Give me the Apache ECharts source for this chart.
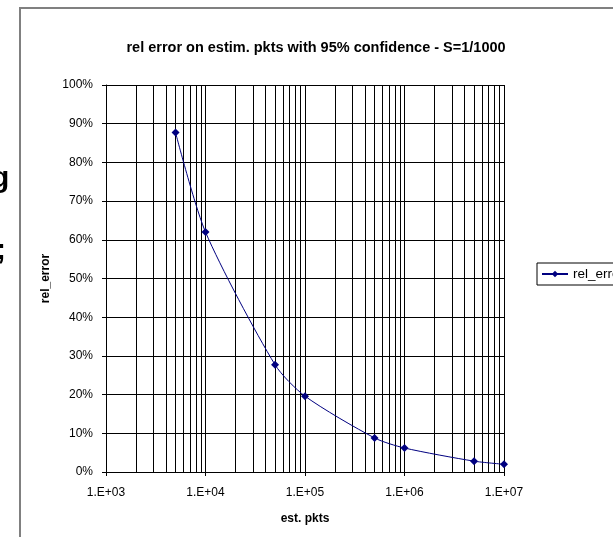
<!DOCTYPE html>
<html><head><meta charset="utf-8">
<script src="https://cdn.jsdelivr.net/npm/echarts@6/dist/echarts.min.js"></script>
<style>html,body{margin:0;padding:0;background:#fff}#c{width:613px;height:537px}</style>
</head><body><div id="c"></div>
<script>
const estPkts = [5000, 10000, 50000, 100000, 500000, 1000000, 5000000, 10000000];
const relError = [0.877, 0.620, 0.277, 0.196, 0.088, 0.062, 0.028, 0.020];
const yTicks = [0, 0.1, 0.2, 0.3, 0.4, 0.5, 0.6, 0.7, 0.8, 0.9, 1.0];
const decades = [1000, 10000, 100000, 1000000];
const minorMult = [2, 3, 4, 5, 6, 7, 8, 9];

const minorLines = [];
decades.forEach(d => minorMult.forEach(m => minorLines.push({ xAxis: d * m })));

const chart = echarts.init(document.getElementById('c'), null, { renderer: 'canvas' });
const font = 'Liberation Sans, Arial, sans-serif';
chart.setOption({
  animation: false,
  backgroundColor: '#fff',
  textStyle: { fontFamily: font },
  title: {
    text: 'rel error on estim. pkts with 95% confidence - S=1/1000',
    left: 311, top: 35, textAlign: 'center',
    textStyle: { fontSize: 14.5, fontWeight: 'bold', color: '#000', fontFamily: font }
  },
  legend: {
    left: 537, top: 263,
    orient: 'vertical',
    borderColor: '#000', borderWidth: 1, borderRadius: 0,
    padding: [4, 6, 4, 4],
    itemWidth: 26, itemHeight: 8, itemGap: 4,
    textStyle: { fontSize: 13.5, color: '#000', fontFamily: font },
    data: ['rel_error']
  },
  grid: { left: 106, right: 109, top: 85, bottom: 65, containLabel: false },
  xAxis: {
    type: 'log', logBase: 10, min: 1000, max: 10000000,
    name: 'est. pkts', nameLocation: 'middle', nameGap: 41,
    nameTextStyle: { fontSize: 12, fontWeight: 'bold', color: '#000', fontFamily: font },
    axisLine: { show: true, lineStyle: { color: '#000', width: 1 } },
    axisTick: { show: true, length: 4, inside: false, lineStyle: { color: '#000' } },
    axisLabel: {
      fontSize: 12, color: '#000', margin: 15, fontFamily: font,
      formatter: v => '1.E+' + String(Math.round(Math.log10(v))).padStart(2, '0')
    },
    splitLine: { show: true, lineStyle: { color: '#000', width: 1 } }
  },
  yAxis: {
    type: 'value', min: 0, max: 1, interval: 0.1,
    name: 'rel_error', nameLocation: 'middle', nameGap: 54, nameRotate: 90,
    nameTextStyle: { fontSize: 12, fontWeight: 'bold', color: '#000', fontFamily: font },
    axisLine: { show: true, lineStyle: { color: '#000', width: 1 } },
    axisTick: { show: true, length: 4, lineStyle: { color: '#000' } },
    axisLabel: {
      fontSize: 12, color: '#000', margin: 13, fontFamily: font,
      formatter: v => Math.round(v * 100) + '%'
    },
    splitLine: { show: true, lineStyle: { color: '#000', width: 1 } }
  },
  graphic: [
    { type: 'polyline', silent: true,
      shape: { points: [[20, 545], [20, 8], [620, 8]] },
      style: { stroke: '#808080', lineWidth: 2, fill: null } },
    { type: 'text', silent: true, left: -9, top: 164,
      style: { text: 'g', font: 'bold 30px Liberation Sans, Arial, sans-serif', fill: '#000' } },
    { type: 'text', silent: true, left: -4, top: 236,
      style: { text: ';', font: 'bold 30px Liberation Sans, Arial, sans-serif', fill: '#000' } }
  ],
  series: [{
    name: 'rel_error', type: 'line',
    data: estPkts.map((x, i) => [x, relError[i]]),
    symbol: 'diamond', symbolSize: 8,
    smooth: 0.25,
    itemStyle: { color: '#000080' },
    lineStyle: { color: '#000080', width: 1 },
    markLine: {
      silent: true, symbol: 'none', animation: false,
      label: { show: false },
      lineStyle: { color: '#000', width: 1, type: 'solid' },
      emphasis: { disabled: true },
      data: minorLines
    },
    z: 5
  }]
});
</script></body></html>
